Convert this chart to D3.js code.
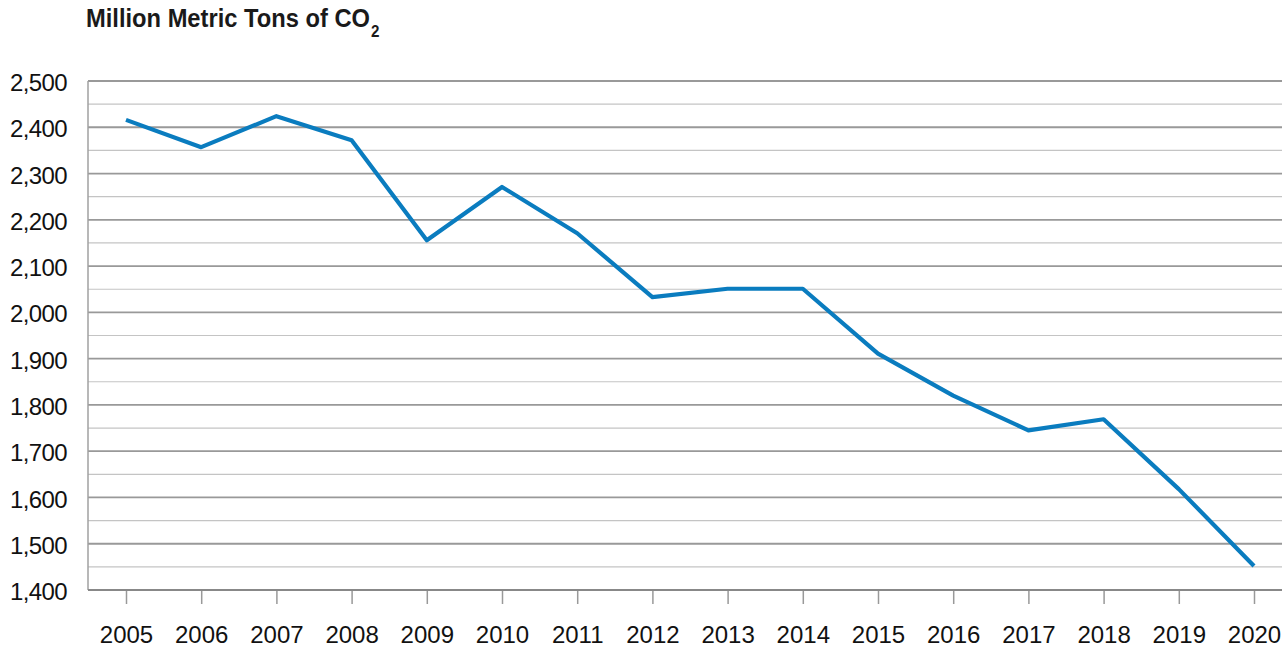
<!DOCTYPE html>
<html>
<head>
<meta charset="utf-8">
<script src="https://cdn.jsdelivr.net/npm/d3@7"></script>
<style>
  html, body { margin: 0; padding: 0; background: #fff; }
  svg { display: block; }
</style>
</head>
<body>
<div id="chart"></div>
<script>
// CO2 emissions line chart, 2005-2020

const years = ["2005", "2006", "2007", "2008", "2009", "2010", "2011", "2012",
               "2013", "2014", "2015", "2016", "2017", "2018", "2019", "2020"];
const emissions = [2416, 2357, 2424, 2372, 2156, 2271, 2171, 2033,
                   2051, 2051, 1911, 1820, 1745, 1769, 1618, 1452];
const yTicks = [1400, 1500, 1600, 1700, 1800, 1900, 2000, 2100, 2200, 2300, 2400, 2500];

const width = 1282;
const height = 650;
const plotLeft = 88;
const plotTop = 81;
const plotBottom = 590;

const svg = d3.select("#chart")
  .append("svg")
  .attr("width", width)
  .attr("height", height);

const x = d3.scalePoint()
  .domain(years)
  .range([126, 1254]);

const y = d3.scaleLinear()
  .domain([1400, 2500])
  .range([plotBottom, plotTop]);

// minor grid (every 50)
const minor = d3.range(1450, 2500, 100);
svg.append("g")
  .selectAll("line")
  .data(minor)
  .join("line")
  .attr("x1", plotLeft)
  .attr("x2", width)
  .attr("y1", d => y(d))
  .attr("y2", d => y(d))
  .attr("stroke", "#c4c4c4")
  .attr("stroke-width", 1.2);

// major grid (every 100)
svg.append("g")
  .selectAll("line")
  .data(yTicks.slice(1))
  .join("line")
  .attr("x1", plotLeft)
  .attr("x2", width)
  .attr("y1", d => y(d))
  .attr("y2", d => y(d))
  .attr("stroke", "#999")
  .attr("stroke-width", 1.8);

// left axis line
svg.append("line")
  .attr("x1", plotLeft).attr("x2", plotLeft)
  .attr("y1", plotTop).attr("y2", plotBottom)
  .attr("stroke", "#a0a0a0")
  .attr("stroke-width", 1.5);

// bottom axis
const xAxis = svg.append("g")
  .attr("transform", "translate(0," + plotBottom + ")")
  .call(d3.axisBottom(x).tickSize(14).tickPadding(22).tickSizeOuter(0));
xAxis.select(".domain").remove();
xAxis.append("line")
  .attr("x1", plotLeft).attr("x2", width)
  .attr("stroke", "#888")
  .attr("stroke-width", 2);
xAxis.selectAll(".tick line").attr("stroke", "#999").attr("stroke-width", 1.5);
xAxis.selectAll(".tick text")
  .attr("fill", "#111")
  .attr("font-family", "Liberation Sans, Arial, sans-serif")
  .attr("font-size", "24px");

// left axis labels
const yAxis = svg.append("g")
  .attr("transform", "translate(67,0)")
  .call(d3.axisLeft(y).tickValues(yTicks).tickSize(0).tickPadding(0).tickFormat(d3.format(",")));
yAxis.select(".domain").remove();
yAxis.selectAll(".tick text")
  .attr("fill", "#111")
  .attr("dy", "0.4em")
  .attr("font-family", "Liberation Sans, Arial, sans-serif")
  .attr("font-size", "24px")
  .attr("letter-spacing", "-0.6px");

// data line
const line = d3.line()
  .x((d, i) => x(years[i]))
  .y(d => y(d));

svg.append("path")
  .datum(emissions)
  .attr("d", line)
  .attr("fill", "none")
  .attr("stroke", "#0a7cbf")
  .attr("stroke-width", 4.2)
  .attr("stroke-linejoin", "round");

// title: one text, squeezed horizontally to look like a narrow face
const title = svg.append("text")
  .attr("fill", "#1a1a1a")
  .attr("font-family", "Liberation Sans Narrow, Arial Narrow, Liberation Sans, sans-serif")
  .attr("font-weight", "700")
  .attr("font-size", "25px");
const main = title.append("tspan").text("Million Metric Tons of CO");
title.append("tspan")
  .attr("dx", 1)
  .attr("dy", 10)
  .attr("font-size", "16px")
  .text("2");
const natural = main.node().getComputedTextLength();
const sx = 284 / natural;
title.attr("transform", "translate(86,27) scale(" + sx + ",1)");
</script>
</body>
</html>
